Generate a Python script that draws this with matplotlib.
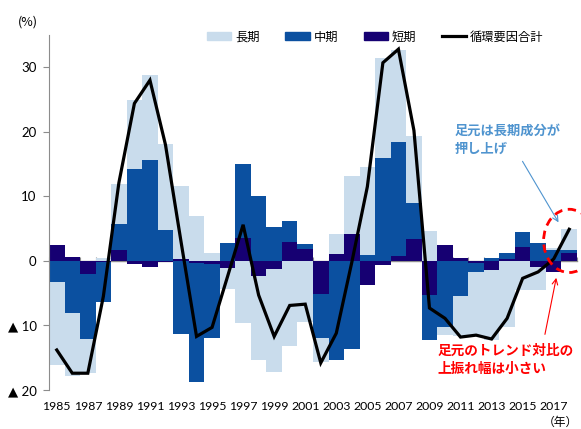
import numpy as np
import matplotlib
matplotlib.use("Agg")
import matplotlib.pyplot as plt
from matplotlib.patches import Ellipse
from matplotlib.lines import Line2D
from matplotlib.patches import Patch

plt.rcParams['font.family'] = ['Noto Sans CJK JP', 'DejaVu Sans']

# cyclical components, % deviation
years = list(range(1985, 2019))
long_term = [-13.0, -9.9, -5.3, 0.5, 6.2, 10.6, 13.1, 13.3, 11.3, 7.0,
             1.3, -3.2, -9.6, -13.1, -16.0, -13.2, -9.4, -3.6, 3.1, 9.1,
             13.6, 15.4, 14.2, 10.4, 4.7, -1.3, -6.2, -10.0, -10.8, -10.2,
             -4.5, -3.6, 0.3, 3.2]
mid_term = [-3.2, -8.0, -10.1, -6.1, 4.1, 14.3, 15.7, 4.8, -11.4, -18.4,
            -11.4, 2.7, 11.4, 10.0, 5.3, 3.2, 0.7, -6.8, -15.3, -13.6,
            0.9, 16.0, 17.8, 5.6, -6.9, -10.2, -5.5, -1.4, 0.4, 0.95,
            2.3, 2.7, 1.7, 0.4]
short_term = [2.4, 0.6, -2.0, -0.2, 1.65, -0.5, -0.9, -0.1, 0.25, -0.3,
              -0.5, -1.1, 3.6, -2.3, -1.2, 3.0, 1.9, -5.2, 1.0, 4.1,
              -3.7, -0.7, 0.7, 3.4, -5.3, 2.5, 0.5, -0.3, -1.4, 0.25,
              2.2, -0.9, -1.65, 1.3]
cycle_total = [-13.8, -17.4, -17.4, -5.5, 12.1, 24.4, 28.0, 18.0, 3.0, -11.7,
               -10.3, -2.4, 5.6, -5.3, -11.7, -6.9, -6.7, -15.8, -11.2, -0.2,
               11.5, 30.7, 32.8, 20.2, -7.3, -8.9, -11.8, -11.5, -12.1, -8.9,
               -2.7, -1.7, 0.3, 4.9]

yticks = [-20, -10, 0, 10, 20, 30]
ytick_labels = ['▲ 20', '▲ 10', '0', '10', '20', '30']

LIGHT = '#C9DCEC'
MID = '#0B50A0'
NAVY = '#160072'
GRAY = '#8C8C8C'
NUM_FONT = ['Lato', 'DejaVu Sans']

W, H = 581, 429
fig = plt.figure(figsize=(W / 100, H / 100), dpi=100)
ax = fig.add_axes([49 / W, 39 / H, 528 / W, 355 / H])

x = np.arange(len(years))
pos_base = np.zeros(len(years))
neg_base = np.zeros(len(years))
# stack outward from zero: short, then mid, then long
for vals, color in [(short_term, NAVY), (mid_term, MID), (long_term, LIGHT)]:
    v = np.array(vals)
    bottom = np.where(v >= 0, pos_base, neg_base)
    ax.bar(x, v, width=1.0, bottom=bottom, color=color, zorder=2)
    pos_base += np.clip(v, 0, None)
    neg_base += np.clip(v, None, 0)

ax.plot(x, cycle_total, color='black', lw=2.3, zorder=5, solid_joinstyle='miter')

ax.set_xlim(-0.5, len(years) - 0.5)
ax.set_ylim(-20, 35)
ax.set_yticks(yticks)
ax.set_yticklabels(ytick_labels, family=NUM_FONT, fontsize=9.5)
ax.set_xticks(x[::2])
ax.set_xticklabels([str(y) for y in years[::2]], family=NUM_FONT, fontsize=8.8)
ax.tick_params(axis='x', length=0, pad=8)
ax.tick_params(axis='y', length=4, color=GRAY, pad=5)
for s in ['top', 'right', 'bottom']:
    ax.spines[s].set_visible(False)
ax.spines['left'].set_color(GRAY)

# zero line with small ticks at category boundaries
zero_ax = ax.secondary_xaxis(20 / 55)
zero_ax.set_xticks(np.arange(-0.5, len(years), 1.0))
zero_ax.tick_params(direction='in', length=3, color=GRAY, labelbottom=False, labeltop=False)
zero_ax.spines['bottom'].set_color(GRAY)
zero_ax.spines['bottom'].set_linewidth(1.0)

handles = [Patch(color=LIGHT, label='長期'), Patch(color=MID, label='中期'),
           Patch(color=NAVY, label='短期'),
           Line2D([], [], color='black', lw=2.3, label='循環要因合計')]
fig.legend(handles=handles, loc='center left', bbox_to_anchor=(207 / W, 1 - 37 / H),
           ncol=4, frameon=False, fontsize=8.8, handlelength=2.0, handleheight=0.6,
           handletextpad=0.3, columnspacing=2.1, borderpad=0, borderaxespad=0)

fig.text(28 / W, 1 - 22 / H, '(%)', fontsize=9, ha='center', va='center')
fig.text(560 / W, 1 - 422 / H, '（年）', fontsize=8.5, ha='center', va='center')

# annotations
ax.text(25.6, 21.2, '足元は長期成分が\n押し上げ', color='#4F94CF', fontsize=9.5,
        fontweight='bold', ha='left', va='top', linespacing=1.35, zorder=6)
ax.annotate('', xy=(32.4, 5.6), xytext=(29.9, 15.8),
            arrowprops=dict(arrowstyle='->', color='#4F94CF', lw=0.8), zorder=6)

ax.text(24.5, -12.9, '足元のトレンド対比の\n上振れ幅は小さい', color='#FF0000', fontsize=9.8,
        fontweight='bold', ha='left', va='top', linespacing=1.3, zorder=6)
ax.annotate('', xy=(32.2, -2.2), xytext=(31.4, -11.8),
            arrowprops=dict(arrowstyle='->', color='#FF0000', lw=0.8), zorder=6)

ax.add_patch(Ellipse((33.0, 3.1), 3.3, 9.8, fill=False, edgecolor='#FF0000',
                     lw=2.0, ls=(0, (3, 2)), clip_on=False, zorder=6))

fig.savefig('out.png', dpi=100)
